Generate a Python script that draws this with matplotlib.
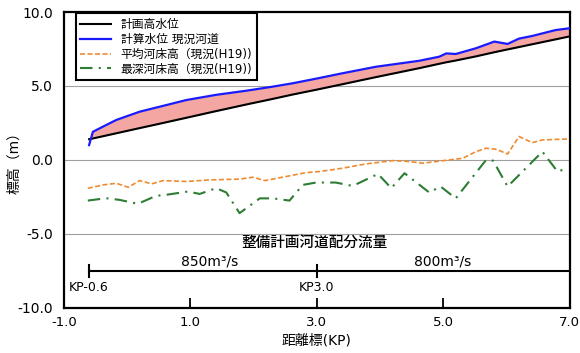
import numpy as np
import matplotlib
matplotlib.use("Agg")
import matplotlib.pyplot as plt

plt.rcParams['font.family'] = ['DejaVu Sans', 'Noto Sans CJK JP']

# water level series (KP, elevation m)
kp_wl = [-0.6, -0.54, -0.38, -0.17, 0.2, 0.52, 0.94, 1.41, 1.89, 2.3, 2.62, 3.0,
         3.41, 3.94, 4.62, 4.94, 5.05, 5.2, 5.52, 5.81, 6.02, 6.2, 6.41, 6.78, 7.0]
plan_hwl = [1.4, 1.45, 1.6, 1.8, 2.15, 2.45, 2.85, 3.3, 3.75, 4.12, 4.42, 4.75,
            5.12, 5.6, 6.2, 6.5, 6.6, 6.72, 7.0, 7.28, 7.47, 7.63, 7.82, 8.15, 8.35]
calc_wl = [1.0, 1.9, 2.25, 2.7, 3.26, 3.6, 4.05, 4.4, 4.68, 4.95, 5.18, 5.5,
           5.86, 6.3, 6.7, 6.98, 7.2, 7.16, 7.55, 8.0, 7.84, 8.2, 8.38, 8.78, 8.9]

# mean riverbed
kp_mean = [-0.62, -0.38, -0.17, 0.02, 0.2, 0.39, 0.57, 0.94, 1.31, 1.78, 1.99, 2.18,
           2.52, 2.83, 3.04, 3.41, 3.78, 4.2, 4.41, 4.68, 4.89, 5.31, 5.52, 5.68,
           5.84, 6.02, 6.2, 6.41, 6.57, 7.0]
mean_bed = [-1.92, -1.69, -1.58, -1.85, -1.4, -1.62, -1.4, -1.46, -1.35, -1.3, -1.17, -1.4,
            -1.12, -0.86, -0.79, -0.56, -0.27, -0.05, -0.09, -0.22, -0.11, 0.11, 0.56, 0.79,
            0.72, 0.4, 1.58, 1.17, 1.35, 1.42]

# deepest riverbed
kp_deep = [-0.62, -0.33, -0.12, 0.17, 0.46, 0.62, 0.96, 1.15, 1.41, 1.57, 1.78, 2.1,
           2.31, 2.57, 2.78, 2.99, 3.3, 3.57, 3.97, 4.18, 4.39, 4.78, 4.96, 5.2,
           5.68, 5.79, 6.02, 6.57, 6.81, 6.97]
deep_bed = [-2.75, -2.59, -2.7, -2.97, -2.43, -2.36, -2.14, -2.3, -1.91, -2.2, -3.6, -2.6,
            -2.6, -2.75, -1.69, -1.53, -1.53, -1.76, -0.95, -1.91, -0.9, -2.2, -1.8, -2.6,
            0.0, -0.05, -1.8, 0.56, -0.79, -0.56]

labels = ['計画高水位', '計算水位 現況河道', '平均河床高（現況(H19))', '最深河床高（現況(H19))']

fig = plt.figure(figsize=(5.8, 3.53), dpi=100)
ax = fig.add_axes([0.110, 0.128, 0.872, 0.838])

ax.fill_between(kp_wl, plan_hwl, calc_wl, color='#f4a6a2', lw=0, zorder=2)
ax.plot(kp_wl, plan_hwl, color='black', lw=1.5, label=labels[0], zorder=3)
ax.plot(kp_wl, calc_wl, color='#1a1aff', lw=1.6, label=labels[1], zorder=4)
ax.plot(kp_mean, mean_bed, color='#f08a30', lw=1.2, ls=(0, (3, 1.5)), label=labels[2], zorder=3)
ax.plot(kp_deep, deep_bed, color='#2e7d32', lw=1.5, ls=(0, (6, 3, 1, 3)), label=labels[3], zorder=3)

for yv in [5, 0, -5]:
    ax.axhline(yv, color='#a0a0a0', lw=0.8, zorder=1)

# flow allocation annotation
ax.plot([-0.6, 7.0], [-7.5, -7.5], color='black', lw=1.5, zorder=3)
ax.plot([-0.6, -0.6], [-7.1, -7.9], color='black', lw=1.5)
ax.plot([3.0, 3.0], [-7.1, -7.9], color='black', lw=1.5)
ax.text(2.97, -5.6, '整備計画河道配分流量', ha='center', va='center', fontsize=10.5, fontweight='medium')
ax.text(1.3, -6.85, '850m³/s', ha='center', va='center', fontsize=10)
ax.text(5.0, -6.85, '800m³/s', ha='center', va='center', fontsize=10)
ax.text(-0.6, -8.65, 'KP-0.6', ha='center', va='center', fontsize=9)
ax.text(3.0, -8.65, 'KP3.0', ha='center', va='center', fontsize=9)

ax.set_xlim(-1, 7)
ax.set_ylim(-10, 10)
ax.set_xticks([-1, 1, 3, 5, 7])
ax.set_xticklabels(['-1.0', '1.0', '3.0', '5.0', '7.0'], fontsize=9.5)
ax.set_yticks([-10, -5, 0, 5, 10])
ax.set_yticklabels(['-10.0', '-5.0', '0.0', '5.0', '10.0'], fontsize=10)
ax.tick_params(axis='x', direction='in', length=7, width=1.3, pad=6)
ax.tick_params(axis='y', length=0, pad=8)
for s in ax.spines.values():
    s.set_linewidth(1.6)

ax.set_xlabel('距離標(KP)', fontsize=10, labelpad=3)
ax.set_ylabel('標高（m）', fontsize=10, labelpad=-3)

leg = ax.legend(loc='upper left', bbox_to_anchor=(0.012, 1.015), fontsize=8.5,
                handlelength=2.6, labelspacing=0.15, borderpad=0.4,
                fancybox=False, framealpha=1, edgecolor='black')
leg.get_frame().set_linewidth(1.5)

fig.savefig('out.png', dpi=100)
